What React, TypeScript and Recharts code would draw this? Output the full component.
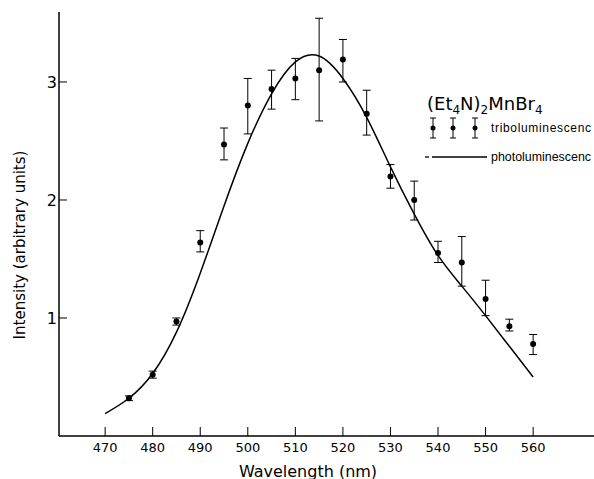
import {
  ComposedChart,
  Line,
  Scatter,
  ErrorBar,
  XAxis,
  YAxis,
  Customized,
} from 'recharts'

// photoluminescence curve
const photoWavelength = [470, 475, 480, 485, 490, 495, 500, 505, 510, 515, 520, 525, 530, 535, 540, 545, 550, 555, 560]
const photoIntensity = [0.19, 0.32, 0.53, 0.88, 1.38, 1.95, 2.48, 2.9, 3.17, 3.22, 3.03, 2.7, 2.28, 1.88, 1.53, 1.27, 1.02, 0.76, 0.5]

// triboluminescence points with asymmetric error bars
const triboWavelength = [475, 480, 485, 490, 495, 500, 505, 510, 515, 520, 525, 530, 535, 540, 545, 550, 555, 560]
const triboIntensity = [0.32, 0.52, 0.97, 1.64, 2.47, 2.8, 2.94, 3.03, 3.1, 3.19, 2.73, 2.2, 2.0, 1.55, 1.47, 1.16, 0.93, 0.78]
const triboErrLow = [0.02, 0.03, 0.03, 0.08, 0.13, 0.24, 0.17, 0.18, 0.43, 0.19, 0.18, 0.1, 0.17, 0.08, 0.2, 0.14, 0.04, 0.09]
const triboErrHigh = [0.02, 0.03, 0.03, 0.1, 0.14, 0.23, 0.16, 0.17, 0.44, 0.17, 0.2, 0.1, 0.16, 0.1, 0.22, 0.16, 0.06, 0.08]

const xTicks = [470, 480, 490, 500, 510, 520, 530, 540, 550, 560]
const yTicks = [1, 2, 3]

const FONT = '"DejaVu Sans", sans-serif'
const LEGEND_FONT = '"Liberation Sans", sans-serif'

const photoData = photoWavelength.map((x, i) => ({ x, y: photoIntensity[i] }))
const triboData = triboWavelength.map((x, i) => ({
  x,
  y: triboIntensity[i],
  err: [triboErrLow[i], triboErrHigh[i]],
}))

function XTick({ x, y, payload }: any) {
  return (
    <g>
      <line x1={x} y1={y} x2={x} y2={y - 9} stroke="#000" strokeWidth={1} />
      <text x={x} y={y + 16} textAnchor="middle" fontSize={13} fontFamily={FONT} fill="#000">
        {payload.value}
      </text>
    </g>
  )
}

function YTick({ x, y, payload }: any) {
  return (
    <g>
      <line x1={x} y1={y} x2={x + 8} y2={y} stroke="#000" strokeWidth={1} />
      <text x={x - 2} y={y + 6} textAnchor="end" fontSize={16} fontFamily={FONT} fill="#000">
        {payload.value}
      </text>
    </g>
  )
}

function Dot(props: any) {
  return <circle cx={props.cx} cy={props.cy} r={3} fill="#000" />
}

function Annotations() {
  const marker = (cx: number) => (
    <g key={cx}>
      <line x1={cx} y1={118} x2={cx} y2={138} stroke="#000" strokeWidth={1} />
      <line x1={cx - 3} y1={118} x2={cx + 3} y2={118} stroke="#000" strokeWidth={1} />
      <line x1={cx - 3} y1={138} x2={cx + 3} y2={138} stroke="#000" strokeWidth={1} />
      <circle cx={cx} cy={128} r={2.5} fill="#000" />
    </g>
  )
  return (
    <g fontFamily={FONT}>
      <text x={20} y={245} transform="rotate(-90 20 245)" textAnchor="middle" dominantBaseline="central" fontSize={15} fill="#000">
        Intensity (arbitrary units)
      </text>
      <text x={308} y={471} textAnchor="middle" dominantBaseline="central" fontSize={16} fill="#000">
        Wavelength (nm)
      </text>
      <text x={427} y={110} fontSize={18} fill="#000">
        <tspan fill="#000">(Et</tspan>
        <tspan fill="#000" fontSize={12} dy={4}>4</tspan>
        <tspan fill="#000" dy={-4}>N)</tspan>
        <tspan fill="#000" fontSize={12} dy={4}>2</tspan>
        <tspan fill="#000" dy={-4}>MnBr</tspan>
        <tspan fill="#000" fontSize={12} dy={4}>4</tspan>
      </text>
      {[433, 453, 475].map(marker)}
      <text x={491} y={128} fontSize={12} fontFamily={LEGEND_FONT} dominantBaseline="central" textLength={100} lengthAdjust="spacing" fill="#000">
        triboluminescenc
      </text>
      <line x1={425} y1={157} x2={429} y2={157} stroke="#000" strokeWidth={1.3} />
      <line x1={432} y1={157} x2={487} y2={157} stroke="#000" strokeWidth={1.5} />
      <text x={491} y={157} fontSize={12} fontFamily={LEGEND_FONT} dominantBaseline="central" textLength={100} lengthAdjust="spacingAndGlyphs" fill="#000">
        photoluminescenc
      </text>
    </g>
  )
}

export default function App() {
  return (
    <div style={{ position: 'absolute', left: 0, top: 0, width: 594, height: 479, background: '#fff' }}>
      <ComposedChart width={594} height={479} margin={{ top: 12, right: 0, left: 19, bottom: 0 }}>
        <XAxis
          dataKey="x"
          type="number"
          domain={[460.3, 572.8]}
          ticks={xTicks}
          allowDataOverflow
          height={43}
          tickSize={0}
          tickMargin={0}
          tickLine={false}
          tick={<XTick />}
          axisLine={{ stroke: '#000', strokeWidth: 1.5 }}
        />
        <YAxis
          type="number"
          domain={[0, 3.593]}
          ticks={yTicks}
          allowDataOverflow
          width={40}
          tickSize={0}
          tickMargin={0}
          tickLine={false}
          tick={<YTick />}
          axisLine={{ stroke: '#000', strokeWidth: 1.5 }}
        />
        <Line
          data={photoData}
          dataKey="y"
          type="natural"
          dot={false}
          stroke="#000"
          strokeWidth={1.5}
          isAnimationActive={false}
        />
        <Scatter data={triboData} dataKey="y" shape={<Dot />} isAnimationActive={false}>
          <ErrorBar dataKey="err" direction="y" width={4} stroke="#000" strokeWidth={1} isAnimationActive={false} />
        </Scatter>
        <Customized component={<Annotations />} />
      </ComposedChart>
    </div>
  )
}
